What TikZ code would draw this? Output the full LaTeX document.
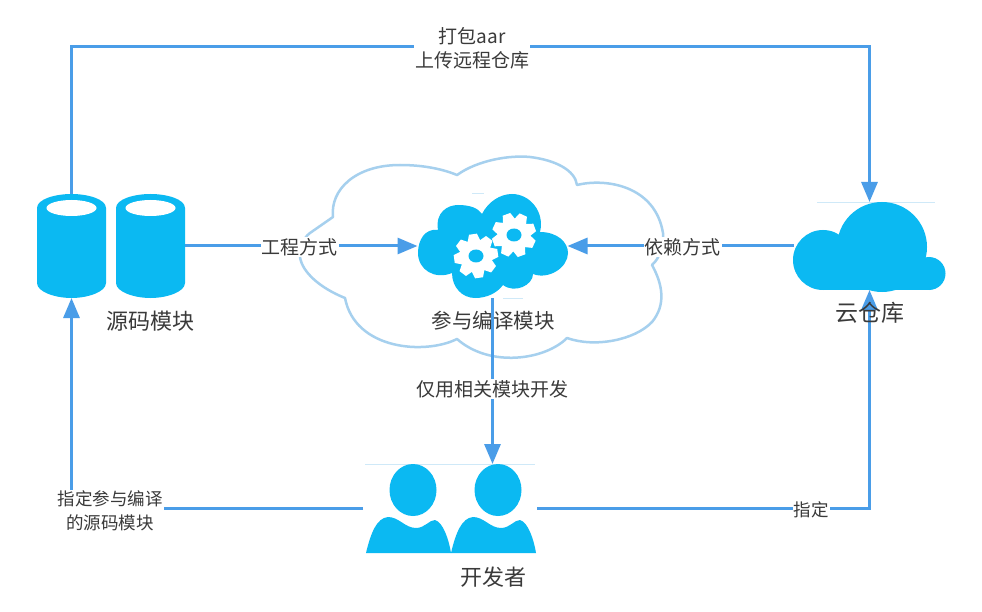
\documentclass[tikz,border=0pt]{standalone}
\usepackage{fontspec}
\setmainfont{Noto Sans CJK SC}
\usetikzlibrary{arrows.meta}
\definecolor{iconblue}{HTML}{0BB9F2}
\definecolor{linkblue}{HTML}{4A9DE8}
\definecolor{paleblue}{HTML}{A6D0EE}
\definecolor{hairblue}{HTML}{CFE9F8}
\definecolor{txt}{HTML}{3A3A3A}
\tikzset{
  hit/.style={inner sep=0pt,outer sep=0pt,minimum width=#1},
  link/.style={draw=linkblue,line width=3pt},
  tip/.style={-{Triangle[length=20pt,width=16pt]}},
  iconfill/.style={fill=iconblue,draw=none},
  cap1/.style={text=txt,font=\fontsize{19}{24}\selectfont,align=center,fill=white,inner sep=1pt},
  cap2/.style={text=txt,font=\fontsize{17.5}{24}\selectfont,align=center,fill=white,inner sep=1pt},
  title/.style={text=txt,font=\fontsize{#1}{24}\selectfont,inner sep=0pt},
  pics/gearwheel/.style={code={
    \fill[white] (0,0) circle (16.5);
    \foreach \a in {0,45,...,315}{
      \fill[white,line join=round,rotate=\a+#1] (-4,-22) -- (4,-22) -- (7,-13) -- (-7,-13) -- cycle;
    }
    \fill[iconblue] (0,0) ellipse (7.5 and 6.5);
  }},
}
\newcommand{\cyl}[1]{%
  \fill[iconfill] (#1-34.5,208) .. controls (#1-34.5,199) and (#1-16,194) .. (#1,194)
    .. controls (#1+16,194) and (#1+34.5,199) .. (#1+34.5,208)
    -- (#1+34.5,283) .. controls (#1+34.5,292) and (#1+16,298) .. (#1,298)
    .. controls (#1-16,298) and (#1-34.5,292) .. (#1-34.5,283) -- cycle;
  \fill[white] (#1,208) ellipse (25 and 8);
}
\newcommand{\person}[1]{%
  \fill[iconfill] (#1,490) ellipse (23.5 and 26);
  \fill[iconfill] (#1-47,553) .. controls (#1-42,532) and (#1-36,518) .. (#1-25,517)
    .. controls (#1-14,517) and (#1-8,528) .. (#1+3,528)
    .. controls (#1+12,528) and (#1+16,520) .. (#1+22,520)
    .. controls (#1+30,522) and (#1+36,540) .. (#1+38,553) -- cycle;
}
\begin{document}
\begin{tikzpicture}[x=1pt,y=-1pt]
\useasboundingbox (0,0) rectangle (982,612);
\fill[white] (0,0) rectangle (982,612);

% pale outer cloud
\draw[paleblue,line width=2.5pt,line join=round]
  (457,175) .. controls (478,160) and (510,155) .. (530,157)
  .. controls (555,160) and (575,170) .. (577,185)
  .. controls (605,178) and (655,185) .. (663,233)
  .. controls (664,245) and (660,258) .. (652,265)
  .. controls (663,285) and (666,305) .. (652,322)
  .. controls (635,340) and (595,348) .. (567,338)
  .. controls (545,360) and (490,368) .. (457,339)
  .. controls (425,355) and (355,350) .. (345,298)
  .. controls (320,288) and (302,272) .. (300,257)
  .. controls (300,248) and (303,238) .. (310,233)
  -- (333,217)
  .. controls (330,190) and (355,165) .. (400,165)
  .. controls (420,165) and (440,168) .. (457,175) -- cycle;

% faint edges of the icons
\draw[hairblue,line width=.8pt] (817,202.5) -- (935,202.5);
\draw[hairblue,line width=.8pt] (365,464.5) -- (535,464.5);
\draw[hairblue,line width=.8pt] (472,193.5) -- (484,193.5);
\draw[hairblue,line width=.8pt] (503,298.5) -- (523,298.5);

% source cylinders
\cyl{71.5}
\cyl{150.5}

% middle cloud
\fill[iconfill] (438,230)
  .. controls (435,212) and (448,205) .. (458,205)
  .. controls (470,205) and (478,208) .. (482,214)
  .. controls (488,202) and (500,194) .. (512,194)
  .. controls (530,194) and (545,212) .. (540,232)
  .. controls (557,232) and (568,242) .. (568,253)
  .. controls (568,268) and (548,280) .. (533,274)
  .. controls (533,285) and (515,294) .. (503,285)
  .. controls (497,293) and (487,298) .. (475,298)
  .. controls (462,298) and (452,287) .. (452,273)
  .. controls (435,280) and (418,270) .. (418,253)
  .. controls (418,240) and (425,228) .. (438,230) -- cycle;
\pic at (476,256) {gearwheel=8};
\pic at (514,235) {gearwheel=20};

% store cloud
\fill[iconfill] (882,247) circle (45);
\fill[iconfill] (823,260) circle (30);
\fill[iconfill] (929,273.5) circle (16.5);
\fill[iconfill] (823,262) rectangle (929,290);

% developers
\person{413}
\person{498}

% anchors for the connectors
\node[hit=69pt,minimum height=104pt] (src1) at (71.5,246) {};
\node[hit=69pt,minimum height=104pt] (src2) at (150.5,246) {};
\node[hit=150pt,minimum height=104pt] (mid) at (492.5,246) {};
\node[hit=152pt,minimum height=88pt] (store) at (869.5,246) {};
\node[hit=174pt,minimum height=89pt] (devs) at (450,508.5) {};
\coordinate (topl) at (71.5,47);
\coordinate (topr) at (869.5,47);

% connectors
\draw[link,tip] (src1.north) -- (topl) -- (topr) -- (store.north);
\draw[link,tip] (src2.east) -- (mid.west);
\draw[link,tip] (store.west) -- (mid.east);
\draw[link,tip] (mid.south) -- (mid.south |- devs.north);
\draw[link,tip] (devs.west) -| (src1.south);
\draw[link,tip] (devs.east) -| (store.south);

% connector labels
\node[cap1] (l1) at (472,48) {打包aar\\上传远程仓库};
\node[cap1] (l2) at (299.5,247) {工程方式};
\node[cap1] (l3) at (682.5,247) {依赖方式};
\node[cap1] (l4) at (492.5,389) {仅用相关模块开发};
\node[cap2] (l5) at (110,511) {指定参与编译\\的源码模块};
\node[cap2] (l6) at (811,510) {指定};

% icon labels
\node[title=22] (t1) at (150.5,321) {源码模块};
\node[title=20.5] (t2) at (493,321) {参与编译模块};
\node[title=23] (t3) at (870,313) {云仓库};
\node[title=22] (t4) at (493,577) {开发者};
\end{tikzpicture}
\end{document}
